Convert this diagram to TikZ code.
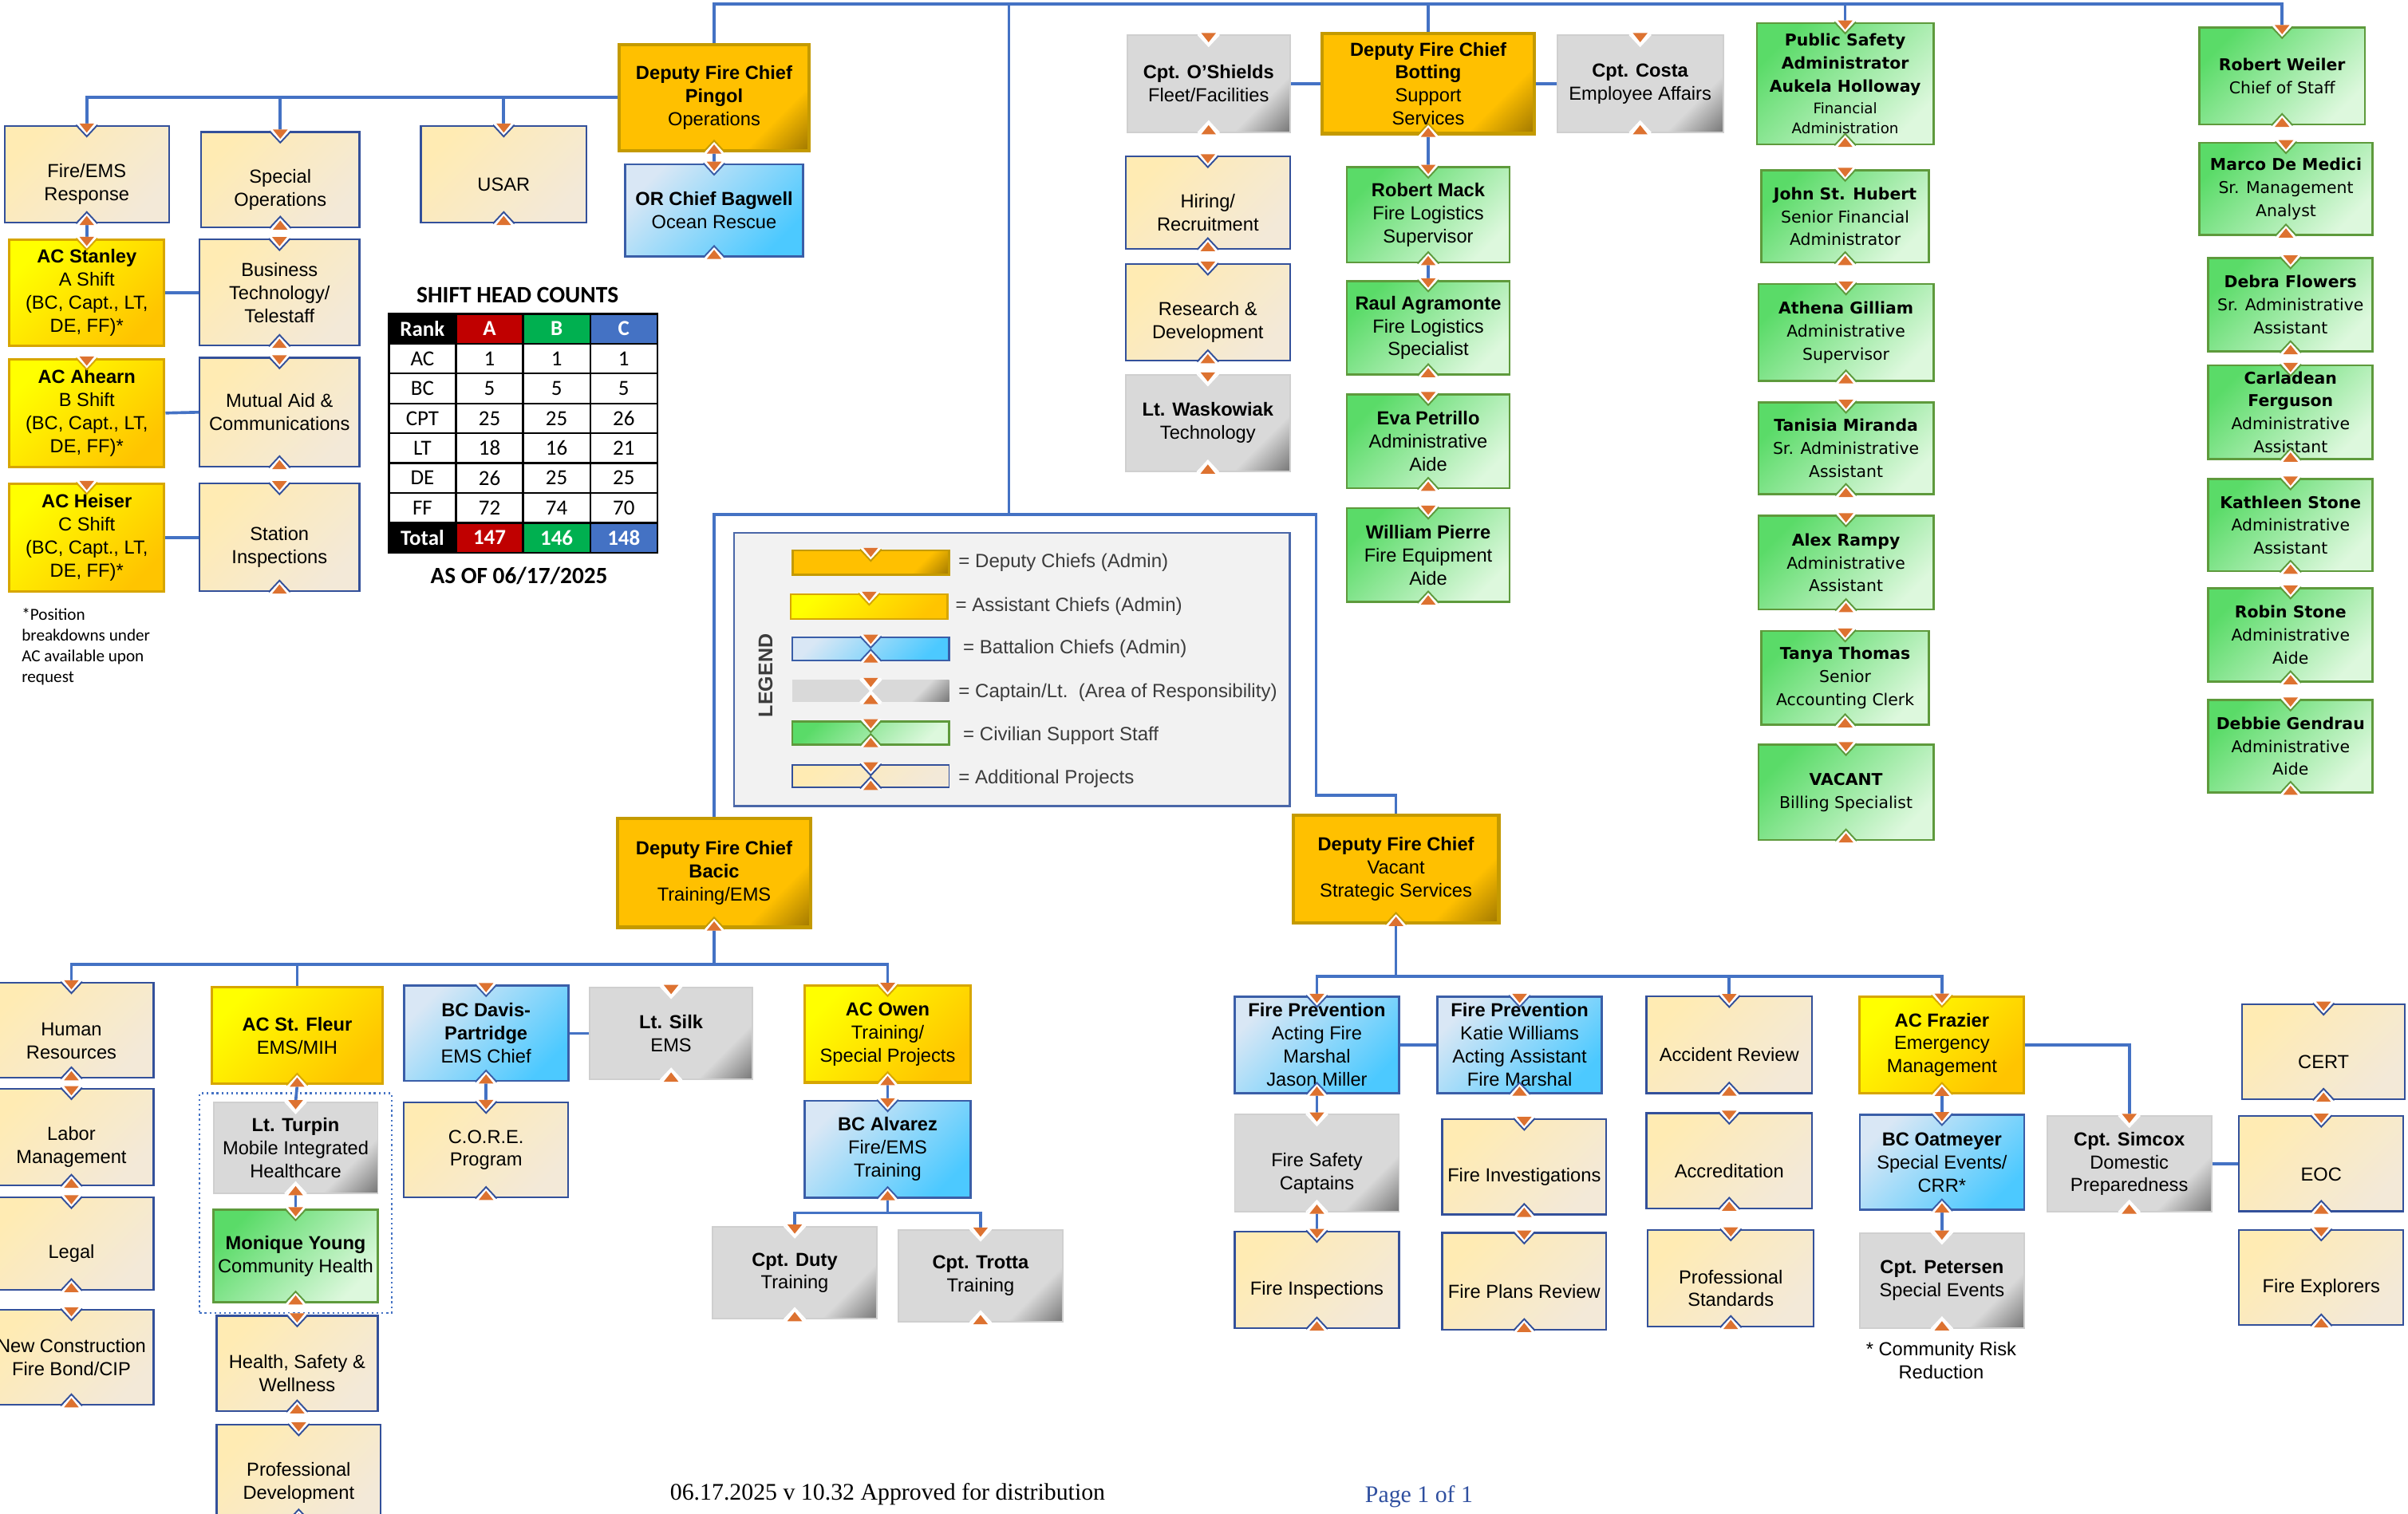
\documentclass[tikz,border=0pt]{standalone}
\usepackage{fontspec}
\setmainfont{Liberation Sans}
\newfontfamily\verd{DejaVu Sans}
\newfontfamily\calib{Carlito}
\newfontfamily\tms{Liberation Serif}
\usepackage{xcolor}
\usetikzlibrary{calc}

\definecolor{linkblue}{HTML}{4472C4}
\definecolor{dfcmain}{HTML}{FFC000}
\definecolor{dfcdark}{HTML}{A37A00}
\definecolor{dfcline}{HTML}{C49A00}
\definecolor{acyel}{HTML}{FFFF00}
\definecolor{acgold}{HTML}{FFC400}
\definecolor{acline}{HTML}{D7A600}
\definecolor{bclight}{HTML}{D9E7F5}
\definecolor{bcdeep}{HTML}{4CC9FF}
\definecolor{bcline}{HTML}{3A5EA8}
\definecolor{cptlight}{HTML}{D9D9D9}
\definecolor{cptdark}{HTML}{7A7A7A}
\definecolor{cptline}{HTML}{CFCFCF}
\definecolor{civdeep}{HTML}{5ADB68}
\definecolor{civlight}{HTML}{DDF8DD}
\definecolor{civline}{HTML}{5E9A3C}
\definecolor{projtop}{HTML}{FFEBB3}
\definecolor{projbot}{HTML}{F3E9D8}
\definecolor{projline}{HTML}{33509A}
\definecolor{tri}{HTML}{DD7230}
\definecolor{legbg}{HTML}{F2F2F2}
\definecolor{legline}{HTML}{4A67A8}
\definecolor{legtext}{HTML}{3C3C3C}
\definecolor{tabred}{HTML}{C00000}
\definecolor{tabgreen}{HTML}{00B050}
\definecolor{tabblue}{HTML}{4472C4}
\definecolor{pageblue}{HTML}{2F4F9F}

\pgfdeclareverticalshading{dfcshade}{100bp}{color(0bp)=(dfcdark); color(15bp)=(dfcdark); color(30bp)=(dfcmain); color(100bp)=(dfcmain)}
\pgfdeclareverticalshading{cptshade}{100bp}{color(0bp)=(cptdark); color(15bp)=(cptdark); color(30bp)=(cptlight); color(100bp)=(cptlight)}

\newcommand\boxfont{\fontsize{12.3}{15}\selectfont}
\newcommand\rfont{\verd\fontsize{10.6}{15}\selectfont}
\newcommand\rsmall{\fontsize{9.5}{13}\selectfont}
\newcommand\lo{\rule{0pt}{22pt}}
\newcommand\tnotch[2]{%
  \fill[white] ($(#1.north)+(-7,-1)$) -- ($(#1.north)+(0,7.5)$) -- ($(#1.north)+(7,-1)$) -- cycle;
  \draw[#2, line width=1pt] ($(#1.north)+(-7,0)$) -- ($(#1.north)+(0,7.5)$) -- ($(#1.north)+(7,0)$);
  \fill[tri] ($(#1.north)+(-4.8,-1)$) -- ($(#1.north)+(0,5)$) -- ($(#1.north)+(4.8,-1)$) -- cycle;}
\newcommand\bnotch[2]{%
  \fill[white] ($(#1.south)+(-7,1)$) -- ($(#1.south)+(0,-7.5)$) -- ($(#1.south)+(7,1)$) -- cycle;
  \draw[#2, line width=1pt] ($(#1.south)+(-7,0)$) -- ($(#1.south)+(0,-7.5)$) -- ($(#1.south)+(7,0)$);
  \fill[tri] ($(#1.south)+(-4.8,1)$) -- ($(#1.south)+(0,-5)$) -- ($(#1.south)+(4.8,1)$) -- cycle;}

\tikzset{
  box/.style={rectangle, align=center, inner sep=1pt, font=\boxfont},
  wh/.style 2 args={minimum width=#1pt, minimum height=#2pt},
  dfc/.style={box, shade, shading=dfcshade, shading angle=45, draw=dfcline, line width=2.2pt},
  ac/.style={box, top color=acyel, bottom color=acgold, shading angle=45, draw=acline, line width=1.6pt},
  bc/.style={box, top color=bclight, bottom color=bcdeep, shading angle=45, draw=bcline, line width=1.4pt},
  cpt/.style={box, shade, shading=cptshade, shading angle=45, draw=cptline, line width=1pt},
  civ/.style={box, top color=civdeep, bottom color=civlight, shading angle=45, draw=civline, line width=1.4pt},
  civr/.style={civ, font=\rfont},
  proj/.style={box, top color=projtop, bottom color=projbot, shading angle=45, draw=projline, line width=1.2pt},
  conn/.style={draw=linkblue, line width=1.9pt},
  cell/.style={draw=black, line width=1.2pt, minimum width=43.7pt, minimum height=19.45pt, inner sep=0pt, font=\calib\fontsize{14}{16}\selectfont},
  legitem/.style={anchor=west, inner sep=0pt, font=\fontsize{12.5}{15}\selectfont, text=legtext},
}

\begin{document}
\begin{tikzpicture}[x=1pt, y=-1pt]
\useasboundingbox (0,0) rectangle (1568,986);

\node[proj, wh={107}{63}] (fireems) at (56.5,113.5) {\lo Fire/EMS\\Response};
\node[proj, wh={103}{62}] (specops) at (182.5,117) {\lo Special\\Operations};
\node[proj, wh={108}{63}] (usar) at (328,113.5) {\lo USAR};
\node[dfc, wh={124}{69}] (pingol) at (465,63.5) {\textbf{Deputy Fire Chief}\\\textbf{Pingol}\\Operations};
\node[bc, wh={116}{60}] (bagwell) at (465,137) {\textbf{OR Chief Bagwell}\\Ocean Rescue};
\node[ac, wh={101}{69}] (stanley) at (56.5,190.5) {\textbf{AC Stanley}\\A Shift\\(BC, Capt., LT,\\DE, FF)*};
\node[proj, wh={104}{69}] (bustech) at (182,190.5) {Business\\Technology/\\Telestaff};
\node[ac, wh={101}{70}] (ahearn) at (56.5,269) {\textbf{AC Ahearn}\\B Shift\\(BC, Capt., LT,\\DE, FF)*};
\node[proj, wh={104}{71}] (mutual) at (182,268.5) {Mutual Aid \&\\Communications};
\node[ac, wh={101}{70}] (heiser) at (56.5,350) {\textbf{AC Heiser}\\C Shift\\(BC, Capt., LT,\\DE, FF)*};
\node[proj, wh={104}{70}] (station) at (182,350) {\lo Station\\Inspections};

\node[cpt, wh={106}{63}] (oshields) at (787,54.5) {\textbf{Cpt. O’Shields}\\Fleet/Facilities};
\node[dfc, wh={138}{65}] (botting) at (930,54.5) {\textbf{Deputy Fire Chief}\\\textbf{Botting}\\Support\\Services};
\node[cpt, wh={108}{63}] (costa) at (1068,54.5) {\textbf{Cpt. Costa}\\Employee Affairs};
\node[proj, wh={107}{60}] (hiring) at (786.5,132) {\lo Hiring/\\Recruitment};
\node[proj, wh={107}{63}] (research) at (786.5,203.5) {\lo Research \&\\Development};
\node[cpt, wh={107}{63}] (waskowiak) at (786.5,275.5) {\textbf{Lt. Waskowiak}\\Technology};
\node[civ, wh={106}{62}] (mack) at (930,140) {\textbf{Robert Mack}\\Fire Logistics\\Supervisor};
\node[civ, wh={106}{61}] (agramonte) at (930,213.5) {\textbf{Raul Agramonte}\\Fire Logistics\\Specialist};
\node[civ, wh={106}{61}] (petrillo) at (930,287.5) {\textbf{Eva Petrillo}\\Administrative\\Aide};
\node[civ, wh={106}{61}] (pierre) at (930,361.5) {\textbf{William Pierre}\\Fire Equipment\\Aide};

\node[civr, wh={115}{79}] (psa) at (1201.5,54.5) {\textbf{Public Safety}\\\textbf{Administrator}\\\textbf{Aukela Holloway}\\[-1pt]\rsmall Financial\\[-2pt]\rsmall Administration};
\node[civr, wh={109}{60}] (hubert) at (1201.5,141) {\textbf{John St. Hubert}\\Senior Financial\\Administrator};
\node[civr, wh={114}{63}] (gilliam) at (1202,216.5) {\textbf{Athena Gilliam}\\Administrative\\Supervisor};
\node[civr, wh={114}{60}] (miranda) at (1202,292) {\textbf{Tanisia Miranda}\\Sr. Administrative\\Assistant};
\node[civr, wh={114}{61}] (rampy) at (1202,366.5) {\textbf{Alex Rampy}\\Administrative\\Assistant};
\node[civr, wh={109}{61}] (thomas) at (1201.5,441.5) {\textbf{Tanya Thomas}\\Senior\\Accounting Clerk};
\node[civr, wh={114}{62}] (billing) at (1202,516) {\textbf{VACANT}\\Billing Specialist};
\node[civr, wh={108}{63}] (weiler) at (1486,49.5) {\textbf{Robert Weiler}\\Chief of Staff};
\node[civr, wh={113}{60}] (medici) at (1488.5,123) {\textbf{Marco De Medici}\\Sr. Management\\Analyst};
\node[civr, wh={107}{61}] (flowers) at (1491.5,198.5) {\textbf{Debra Flowers}\\Sr. Administrative\\Assistant};
\node[civr, wh={107}{61}] (ferguson) at (1491.5,268.5) {\textbf{Carladean}\\\textbf{Ferguson}\\Administrative\\Assistant};
\node[civr, wh={107}{60}] (kstone) at (1491.5,342) {\textbf{Kathleen Stone}\\Administrative\\Assistant};
\node[civr, wh={107}{61}] (rstone) at (1491.5,413.5) {\textbf{Robin Stone}\\Administrative\\Aide};
\node[civr, wh={107}{60}] (gendrau) at (1491.5,486) {\textbf{Debbie Gendrau}\\Administrative\\Aide};

\node[draw=legline, line width=1.4pt, fill=legbg, wh={362}{178}] (legend) at (659,436) {};
\node[rotate=90, font=\bfseries\fontsize{13}{15}\selectfont, text=legtext] (legtitle) at (498.5,440) {LEGEND};
\node[dfc, wh={102}{16}, line width=1.4pt] (swdfc) at (567,366.5) {};
\node[ac, wh={102}{16}, line width=1.2pt] (swac) at (566,395) {};
\node[bc, wh={102}{15}, line width=1.2pt] (swbc) at (567,422.5) {};
\node[cpt, wh={102}{14}, draw=none] (swcpt) at (567,450) {};
\node[civ, wh={102}{15}, line width=1.2pt] (swciv) at (567,477.5) {};
\node[proj, wh={102}{15}, line width=1pt] (swproj) at (567,505.5) {};
\node[legitem] (lgdfc) at (624,366.5) {= Deputy Chiefs (Admin)};
\node[legitem] (lgac) at (622,395) {= Assistant Chiefs (Admin)};
\node[legitem] (lgbc) at (627,422.5) {= Battalion Chiefs (Admin)};
\node[legitem] (lgcpt) at (624,451) {= Captain/Lt.\ \ (Area of Responsibility)};
\node[legitem] (lgciv) at (627,479) {= Civilian Support Staff};
\node[legitem] (lgproj) at (624,507) {= Additional Projects};

\node[dfc, wh={126}{71}] (bacic) at (465,568.5) {\textbf{Deputy Fire Chief}\\\textbf{Bacic}\\Training/EMS};
\node[proj, wh={107}{62}] (hr) at (46.5,671) {\lo Human\\Resources};
\node[proj, wh={107}{63}] (labor) at (46.5,740.5) {\lo Labor\\Management};
\node[proj, wh={107}{60}] (legal) at (46.5,810) {\lo Legal};
\node[proj, wh={107}{62}] (newcon) at (46.5,884) {New Construction\\Fire Bond/CIP};
\node[ac, wh={111}{63}] (stfleur) at (193.5,674.5) {\textbf{AC St. Fleur}\\EMS/MIH};
\node[bc, wh={107}{62}] (davis) at (316.5,673) {\textbf{BC Davis-}\\\textbf{Partridge}\\EMS Chief};
\node[cpt, wh={106}{60}] (silk) at (437,673) {\textbf{Lt. Silk}\\EMS};
\node[ac, wh={108}{63}] (owen) at (578,673.5) {\textbf{AC Owen}\\Training/\\Special Projects};
\node[draw=linkblue, dotted, line width=1.2pt, wh={125}{143}] (mihgroup) at (192.5,783.5) {};
\node[cpt, wh={107}{59}] (turpin) at (192.5,747.5) {\textbf{Lt. Turpin}\\Mobile Integrated\\Healthcare};
\node[civ, wh={107}{60}] (young) at (192.5,818) {\textbf{Monique Young}\\Community Health};
\node[proj, wh={105}{62}] (health) at (193.5,888) {\lo Health, Safety \&\\Wellness};
\node[proj, wh={107}{62}] (profdev) at (194.5,959) {\lo Professional\\Development};
\node[proj, wh={107}{62}] (core) at (316.5,749) {C.O.R.E.\\Program};
\node[bc, wh={108}{63}] (alvarez) at (578,748.5) {\textbf{BC Alvarez}\\Fire/EMS\\Training};
\node[cpt, wh={107}{60}] (duty) at (517.5,829) {\textbf{Cpt. Duty}\\Training};
\node[cpt, wh={107}{60}] (trotta) at (638.5,831) {\textbf{Cpt. Trotta}\\Training};

\node[dfc, wh={134}{70}] (vacant) at (909,566) {\textbf{Deputy Fire Chief}\\Vacant\\Strategic Services};
\node[bc, wh={107}{63}] (fpmiller) at (857.5,680.5) {\textbf{Fire Prevention}\\Acting Fire\\Marshal\\Jason Miller};
\node[bc, wh={107}{63}] (fpwilliams) at (989.5,680.5) {\textbf{Fire Prevention}\\Katie Williams\\Acting Assistant\\Fire Marshal};
\node[proj, wh={108}{63}] (accident) at (1126,680.5) {\lo Accident Review};
\node[ac, wh={107}{63}] (frazier) at (1264.5,680.5) {\textbf{AC Frazier}\\Emergency\\Management};
\node[proj, wh={106}{62}] (cert) at (1513,685) {\lo CERT};
\node[cpt, wh={107}{63}] (fsc) at (857.5,757.5) {\lo Fire Safety\\Captains};
\node[proj, wh={107}{62}] (firinv) at (992.5,760) {\lo Fire Investigations};
\node[proj, wh={108}{62}] (accred) at (1126,756) {\lo Accreditation};
\node[bc, wh={107}{62}] (oatmeyer) at (1264.5,757) {\textbf{BC Oatmeyer}\\Special Events/\\CRR*};
\node[cpt, wh={107}{62}] (simcox) at (1386.5,758) {\textbf{Cpt. Simcox}\\Domestic\\Preparedness};
\node[proj, wh={107}{62}] (eoc) at (1511.5,758) {\lo EOC};
\node[proj, wh={107}{63}] (firinsp) at (857.5,833.5) {\lo Fire Inspections};
\node[proj, wh={107}{63}] (plans) at (992.5,834.5) {\lo Fire Plans Review};
\node[proj, wh={108}{63}] (profstd) at (1127,832.5) {\lo Professional\\Standards};
\node[cpt, wh={107}{62}] (petersen) at (1264.5,834) {\textbf{Cpt. Petersen}\\Special Events};
\node[proj, wh={107}{62}] (explorers) at (1511.5,832) {\lo Fire Explorers};
\node[font=\boxfont, align=center] (crrnote) at (1264,886) {* Community Risk\\Reduction};

\node[font=\calib\bfseries\fontsize{15.3}{17}\selectfont] (tabtitle) at (337,192) {SHIFT HEAD COUNTS};
\foreach \txt/\fc [count=\i from 0] in {Rank/black, A/tabred, B/tabgreen, C/tabblue}
  \node[cell, fill=\fc, text=white, font=\calib\bfseries\fontsize{14}{16}\selectfont] (hd\i) at (275.05+43.7*\i,214.1) {\txt};
\foreach \rk/\va/\vb/\vc [count=\j] in {AC/1/1/1, BC/5/5/5, CPT/25/25/26, LT/18/16/21, DE/26/25/25, FF/72/74/70} {
  \node[cell] (rk\j) at (275.05,214.1+19.45*\j) {\rk};
  \node[cell] (ca\j) at (318.75,214.1+19.45*\j) {\va};
  \node[cell] (cb\j) at (362.45,214.1+19.45*\j) {\vb};
  \node[cell] (cc\j) at (406.15,214.1+19.45*\j) {\vc};
}
\foreach \txt/\fc [count=\i from 0] in {Total/black, 147/tabred, 146/tabgreen, 148/tabblue}
  \node[cell, fill=\fc, text=white, font=\calib\bfseries\fontsize{14}{16}\selectfont] (tot\i) at (275.05+43.7*\i,350.25) {\txt};
\node[font=\calib\bfseries\fontsize{15.2}{17}\selectfont] (asof) at (338,375) {AS OF 06/17/2025};
\node[anchor=north west, align=left, inner sep=0pt, font=\calib\fontsize{11}{13.5}\selectfont] (posnote) at (14,396) {*Position\\breakdowns under\\AC available upon\\request};

\node[font=\tms\fontsize{15.5}{18}\selectfont] (footer) at (578,973) {06.17.2025 v 10.32 Approved for distribution};
\node[font=\tms\fontsize{15.5}{18}\selectfont, text=pageblue] (pageno) at (924,975) {Page 1 of 1};

\coordinate (top) at (657,2.5);
\coordinate (legtop) at (657,335);
\coordinate (legright) at (857,335);
\coordinate (legbend) at (857,518);
\draw[conn] (pingol.north) |- (top) -| (weiler.north);
\draw[conn] (botting.north) -- (botting.north |- top);
\draw[conn] (psa.north) -- (psa.north |- top);
\draw[conn] (top) -- (legtop);
\draw[conn] (bacic.north) |- (legright) -- (legbend) -| (vacant.north);
\draw[conn] (pingol.west) -| (fireems.north);
\draw[conn] (specops.north) -- (specops.north |- pingol.west);
\draw[conn] (usar.north) -- (usar.north |- pingol.west);
\draw[conn] (pingol.south) -- (bagwell.north);
\draw[conn] (fireems.south) -- (stanley.north);
\draw[conn] (stanley.east) -- (bustech.west);
\draw[conn] (ahearn.east) -- (mutual.west);
\draw[conn] (heiser.east) -- (station.west);
\draw[conn] (oshields.east) -- (botting.west);
\draw[conn] (botting.east) -- (costa.west);
\draw[conn] (botting.south) -- (mack.north);
\draw[conn] (mack.south) -- (agramonte.north);

\coordinate (trainbus) at (465,628);
\draw[conn] (bacic.south) -- (trainbus);
\draw[conn] (hr.north) |- (trainbus) -| (owen.north);
\draw[conn] (stfleur.north) -- (stfleur.north |- trainbus);
\draw[conn] (davis.east) -- (silk.west);
\draw[conn] (stfleur.south) -- (turpin.north);
\draw[conn] (turpin.south) -- (young.north);
\draw[conn] (davis.south) -- (core.north);
\draw[conn] (owen.south) -- (alvarez.north);
\coordinate (alvbus) at (578,790);
\draw[conn] (alvarez.south) -- (alvbus);
\draw[conn] (duty.north) |- (alvbus) -| (trotta.north);

\coordinate (stratbus) at (909,636);
\draw[conn] (vacant.south) -- (stratbus);
\draw[conn] (fpmiller.north) |- (stratbus) -| (frazier.north);
\draw[conn] (accident.north) -- (accident.north |- stratbus);
\draw[conn] (fpmiller.east) -- (fpwilliams.west);
\draw[conn] (fpmiller.south) -- (fsc.north);
\draw[conn] (fsc.south) -- (firinsp.north);
\draw[conn] (frazier.east) -| (simcox.north);
\draw[conn] (simcox.east) -- (eoc.west);
\draw[conn] (frazier.south) -- (oatmeyer.north);
\draw[conn] (oatmeyer.south) -- (petersen.north);

\foreach \n in {fireems,specops,usar,bustech,mutual,station,hiring,research,hr,labor,legal,newcon,health,profdev,core,accident,cert,firinv,accred,eoc,firinsp,plans,profstd,explorers,swproj}
  {\tnotch{\n}{projline}\bnotch{\n}{projline}}
\foreach \n in {mack,agramonte,petrillo,pierre,psa,hubert,gilliam,miranda,rampy,thomas,billing,weiler,medici,flowers,ferguson,kstone,rstone,gendrau,young,swciv}
  {\tnotch{\n}{civline}\bnotch{\n}{civline}}
\foreach \n in {oshields,costa,waskowiak,turpin,silk,duty,trotta,fsc,simcox,petersen,swcpt}
  {\tnotch{\n}{white}\bnotch{\n}{white}}
\foreach \n in {bagwell,davis,alvarez,fpmiller,fpwilliams,oatmeyer,swbc}
  {\tnotch{\n}{bcline}\bnotch{\n}{bcline}}
\foreach \n in {stanley,ahearn,heiser,owen,frazier,swac}
  {\tnotch{\n}{acline}}
\foreach \n in {stfleur,owen,frazier}
  {\bnotch{\n}{acline}}
\foreach \n in {pingol,botting,bacic,vacant}
  {\bnotch{\n}{dfcline}}
\tnotch{swdfc}{dfcline}
\end{tikzpicture}
\end{document}
